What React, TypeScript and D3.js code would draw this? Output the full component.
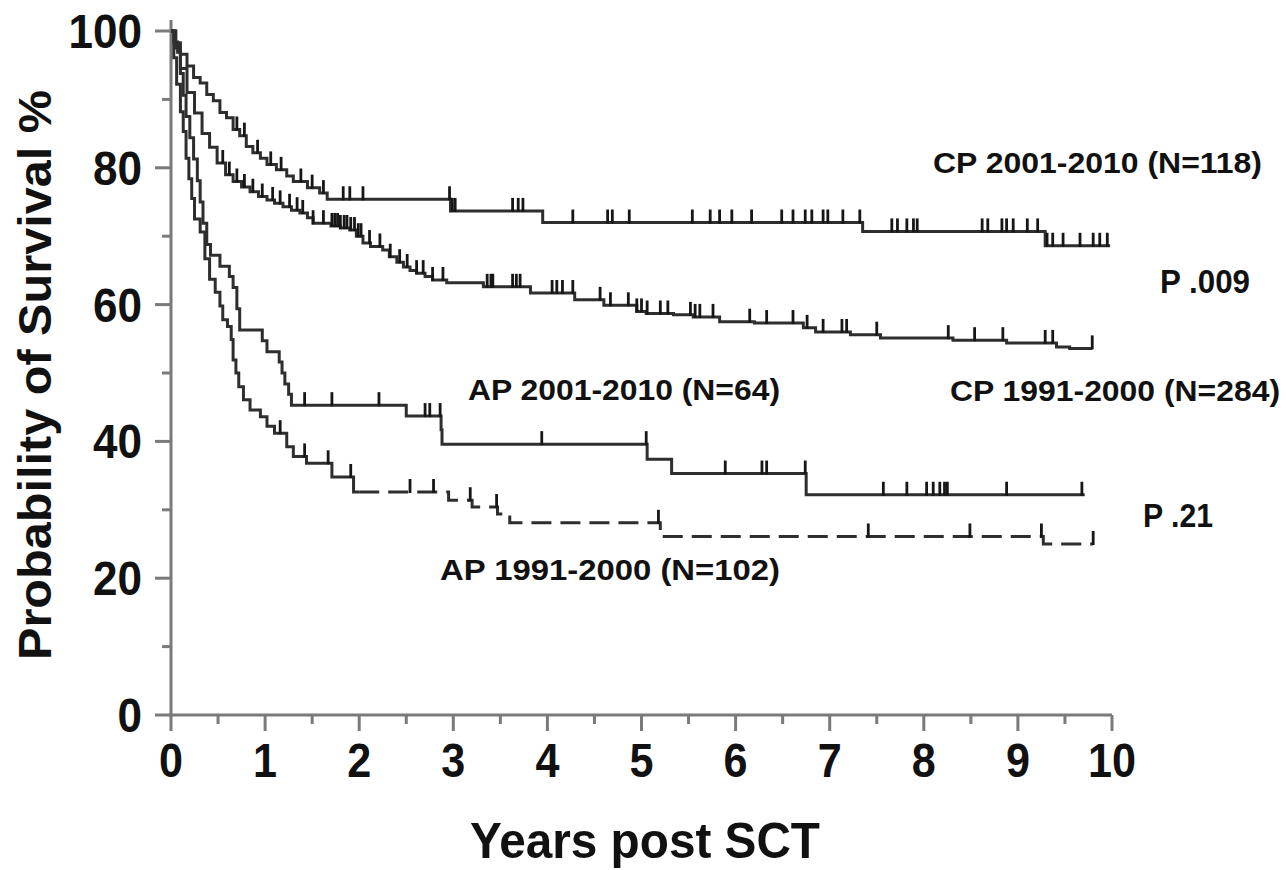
import React from "react";
import * as d3 from "d3";

// ---------- data ----------
const xMajorTicks = [0, 1, 2, 3, 4, 5, 6, 7, 8, 9, 10];
const xMinorTicks = [0.5, 1.5, 2.5, 3.5, 4.5, 5.5, 6.5, 7.5, 8.5, 9.5];
const yMajorTicks = [0, 20, 40, 60, 80, 100];
const yMinorTicks = [10, 30, 50, 70, 90];

// CP 2001-2010 (N=118)
const cp01T = [0, 0.05, 0.1, 0.17, 0.24, 0.31, 0.38, 0.45, 0.52, 0.59, 0.66, 0.73, 0.8, 0.87, 0.95, 1.02, 1.12, 1.23, 1.3, 1.45, 1.58, 1.66, 2.97, 3.95, 7.35, 9.29];
const cp01S = [100, 98.3, 96.6, 94.9, 93.2, 92.4, 90.7, 89.8, 88.1, 87.3, 85.6, 84.7, 83.1, 82.2, 81.4, 80.5, 79.7, 78.8, 78.0, 77.1, 76.3, 75.4, 73.7, 72.0, 70.7, 68.6];
const cp01End = 9.98;
const cp01Censor = [0.7, 0.78, 0.92, 1.06, 1.17, 1.38, 1.5, 1.62, 1.83, 1.9, 2.04, 2.96, 2.99, 3.02, 3.63, 3.69, 3.74, 4.27, 4.64, 4.69, 4.87, 5.54, 5.73, 5.83, 5.96, 6.17, 6.49, 6.61, 6.74, 6.81, 6.93, 6.98, 7.14, 7.32, 7.66, 7.72, 7.82, 7.89, 7.93, 8.62, 8.68, 8.83, 8.88, 8.95, 9.1, 9.21, 9.31, 9.37, 9.48, 9.66, 9.8, 9.87, 9.95];

// CP 1991-2000 (N=284)
const cp91T = [0, 0.05, 0.1, 0.17, 0.25, 0.33, 0.41, 0.49, 0.58, 0.66, 0.75, 0.84, 0.93, 1.02, 1.1, 1.19, 1.28, 1.37, 1.45, 1.51, 1.7, 1.8, 1.9, 1.97, 2.04, 2.12, 2.25, 2.32, 2.4, 2.47, 2.54, 2.61, 2.7, 2.78, 2.93, 3.32, 3.82, 4.29, 4.6, 4.95, 5.05, 5.34, 5.55, 5.83, 6.2, 6.72, 6.85, 7.22, 7.54, 8.31, 8.88, 9.41, 9.55];
const cp91S = [100, 97.5, 94.5, 91, 88, 85, 83, 80.7, 79, 78, 77.2, 76.5, 75.8, 75.3, 74.8, 74.3, 73.8, 73.4, 72.7, 71.9, 71.5, 71.2, 70.9, 70.0, 69.0, 68.5, 68.0, 67.0, 66.2, 65.5, 65.0, 64.6, 64.1, 63.6, 63.2, 62.6, 61.7, 60.7, 59.9, 59.0, 58.7, 58.5, 58.2, 57.5, 57.3, 56.6, 56.0, 55.6, 55.1, 54.8, 54.4, 53.8, 53.6];
const cp91End = 9.79;
const cp91Censor = [0.55, 0.62, 0.7, 0.78, 0.87, 0.97, 1.08, 1.16, 1.26, 1.34, 1.4, 1.51, 1.62, 1.71, 1.74, 1.77, 1.8, 1.84, 1.87, 1.91, 1.95, 1.99, 2.02, 2.11, 2.22, 2.33, 2.43, 2.51, 2.61, 2.68, 2.78, 2.89, 3.36, 3.4, 3.42, 3.63, 3.67, 3.71, 4.05, 4.1, 4.16, 4.27, 4.56, 4.67, 4.86, 4.95, 5.0, 5.06, 5.2, 5.28, 5.52, 5.57, 5.62, 5.76, 6.15, 6.33, 6.61, 6.76, 6.93, 7.13, 7.18, 7.5, 8.26, 8.54, 8.84, 9.29, 9.37, 9.79];

// AP 2001-2010 (N=64)
const ap01T = [0, 0.03, 0.07, 0.1, 0.13, 0.16, 0.2, 0.24, 0.28, 0.31, 0.34, 0.38, 0.42, 0.52, 0.62, 0.66, 0.7, 0.73, 0.97, 1.02, 1.15, 1.18, 1.21, 1.25, 1.28, 2.5, 2.87, 2.88, 5.06, 5.32, 6.75];
const ap01S = [100, 98.4, 96.9, 93.8, 90.6, 87.5, 84.4, 81.3, 78.1, 75.0, 71.9, 68.8, 67.2, 65.6, 64.1, 62.5, 59.4, 56.3, 54.7, 53.1, 51.6, 50.0, 48.4, 46.9, 45.3, 43.7, 41.7, 39.6, 37.4, 35.3, 32.2];
const ap01End = 9.71;
const ap01Censor = [1.42, 1.71, 2.21, 2.7, 2.75, 2.86, 3.94, 5.05, 5.89, 6.28, 6.33, 6.74, 7.57, 7.82, 8.03, 8.1, 8.17, 8.22, 8.25, 8.88, 9.68];

// AP 1991-2000 (N=102)
const ap91T = [0, 0.03, 0.06, 0.1, 0.13, 0.16, 0.19, 0.22, 0.25, 0.31, 0.36, 0.41, 0.47, 0.52, 0.55, 0.6, 0.64, 0.66, 0.69, 0.72, 0.77, 0.84, 0.95, 1.02, 1.1, 1.23, 1.3, 1.44, 1.71, 1.94, 2.95, 3.2, 3.47, 3.6, 5.2, 9.27];
const ap91S = [100, 96.1, 92.2, 88.2, 85.3, 81.4, 78.4, 75.5, 72.5, 70.6, 66.7, 63.7, 61.8, 59.8, 57.8, 56.8, 54.9, 51.9, 50.0, 48.0, 46.1, 44.6, 43.6, 42.2, 41.2, 39.2, 37.8, 36.8, 34.8, 32.6, 31.4, 30.4, 29.4, 28.1, 26.1, 25.0];
const ap91End = 9.8;
const ap91Censor = [1.16, 1.42, 1.67, 1.91, 2.54, 2.79, 3.18, 3.46, 5.18, 7.41, 8.49, 9.25, 9.8];
const ap91DashFrom = 2.0;

// labels
const curveLabels = [
  { text: "CP 2001-2010 (N=118)", x: 933, y: 173, w: 329 },
  { text: "CP 1991-2000 (N=284)", x: 950, y: 401, w: 330 },
  { text: "AP 2001-2010 (N=64)", x: 468, y: 400, w: 312 },
  { text: "AP 1991-2000 (N=102)", x: 440, y: 580, w: 340 },
];
const pLabels = [
  { text: "P .009", x: 1160, y: 293, w: 90 },
  { text: "P .21", x: 1143, y: 527, w: 70 },
];

// ---------- helpers ----------
const W = 1286;
const H = 870;
const x = d3.scaleLinear().domain([0, 10]).range([171, 1112]);
const y = d3.scaleLinear().domain([0, 100]).range([715, 31]);

type Pt = [number, number];

function stepPts(T: number[], S: number[], end: number): Pt[] {
  const pts: Pt[] = T.map((t, i) => [t, S[i]] as Pt);
  pts.push([end, S[S.length - 1]]);
  return pts;
}
function valueAt(T: number[], S: number[], t: number): number {
  let v = S[0];
  for (let i = 0; i < T.length; i++) if (T[i] <= t) v = S[i];
  return v;
}
const line = d3
  .line<Pt>()
  .x((d) => x(d[0]))
  .y((d) => y(d[1]))
  .curve(d3.curveStepAfter);

const FONT = "'Liberation Sans', Arial, Helvetica, sans-serif";
const LINE = "#2e2e2e";

function Censor({ T, S, C, col }: { T: number[]; S: number[]; C: number[]; col: string }) {
  return (
    <g stroke={col} strokeWidth={2.8}>
      {C.map((t, i) => {
        const v = valueAt(T, S, t);
        return <line key={i} x1={x(t)} x2={x(t)} y1={y(v) + 1} y2={y(v) - 13} />;
      })}
    </g>
  );
}

export default function App() {
  const ap91All = stepPts(ap91T, ap91S, ap91End);
  const dashV = valueAt(ap91T, ap91S, ap91DashFrom);
  const ap91Solid: Pt[] = ap91All.filter((p) => p[0] < ap91DashFrom);
  ap91Solid.push([ap91DashFrom, dashV]);
  const ap91Dash: Pt[] = [[ap91DashFrom, dashV] as Pt, ...ap91All.filter((p) => p[0] > ap91DashFrom)];

  return (
    <svg
      width={W}
      height={H}
      style={{ position: "absolute", left: 0, top: 0, background: "#fff" }}
      fontFamily={FONT}
      fontWeight="bold"
    >
      <rect x={0} y={0} width={W} height={H} fill="#fff" />

      {/* axes */}
      <g stroke="#7a7a7a" strokeWidth={3} fill="none">
        <line x1={x(0)} x2={x(0)} y1={20} y2={717} />
        <line x1={x(0) - 2} x2={x(10)} y1={y(0)} y2={y(0)} />
        {yMajorTicks.map((v) => (
          <line key={"ym" + v} x1={x(0) - 16} x2={x(0)} y1={y(v)} y2={y(v)} />
        ))}
        {yMinorTicks.map((v) => (
          <line key={"yn" + v} x1={x(0) - 9} x2={x(0)} y1={y(v)} y2={y(v)} />
        ))}
        {xMajorTicks.map((v) => (
          <line key={"xm" + v} x1={x(v)} x2={x(v)} y1={y(0)} y2={y(0) + 16} />
        ))}
        {xMinorTicks.map((v) => (
          <line key={"xn" + v} x1={x(v)} x2={x(v)} y1={y(0)} y2={y(0) + 9} />
        ))}
      </g>

      {/* tick labels */}
      <g fill="#111" fontSize={48}>
        {yMajorTicks.map((v) => (
          <text
            key={"yl" + v}
            x={142}
            y={y(v) + 17}
            textAnchor="end"
            textLength={24.5 * String(v).length}
            lengthAdjust="spacingAndGlyphs"
          >
            {v}
          </text>
        ))}
        {xMajorTicks.map((v) => (
          <text
            key={"xl" + v}
            x={x(v)}
            y={777}
            textAnchor="middle"
            textLength={24 * String(v).length}
            lengthAdjust="spacingAndGlyphs"
          >
            {v}
          </text>
        ))}
      </g>

      {/* axis titles */}
      <text
        transform="translate(51,375) rotate(-90)"
        textAnchor="middle"
        fontSize={46}
        fill="#111"
        textLength={570}
        lengthAdjust="spacingAndGlyphs"
      >
        Probability of Survival %
      </text>
      <text
        x={645}
        y={858}
        textAnchor="middle"
        fontSize={50}
        fill="#111"
        textLength={350}
        lengthAdjust="spacingAndGlyphs"
      >
        Years post SCT
      </text>

      {/* curves */}
      <g fill="none" stroke={LINE} strokeWidth={3}>
        <path d={line(stepPts(cp01T, cp01S, cp01End)) || ""} />
        <path d={line(stepPts(cp91T, cp91S, cp91End)) || ""} />
        <path d={line(stepPts(ap01T, ap01S, ap01End)) || ""} />
        <path d={line(ap91Solid) || ""} />
        <path d={line(ap91Dash) || ""} strokeDasharray="20 9" />
      </g>
      <Censor T={cp01T} S={cp01S} C={cp01Censor} col="#161616" />
      <Censor T={cp91T} S={cp91S} C={cp91Censor} col="#161616" />
      <Censor T={ap01T} S={ap01S} C={ap01Censor} col="#161616" />
      <Censor T={ap91T} S={ap91S} C={ap91Censor} col="#161616" />

      {/* labels */}
      <g fill="#111" fontSize={29}>
        {curveLabels.map((l) => (
          <text key={l.text} x={l.x} y={l.y} textLength={l.w} lengthAdjust="spacingAndGlyphs">
            {l.text}
          </text>
        ))}
      </g>
      <g fill="#111" fontSize={34}>
        {pLabels.map((l) => (
          <text key={l.text} x={l.x} y={l.y} textLength={l.w} lengthAdjust="spacingAndGlyphs">
            {l.text}
          </text>
        ))}
      </g>
    </svg>
  );
}
